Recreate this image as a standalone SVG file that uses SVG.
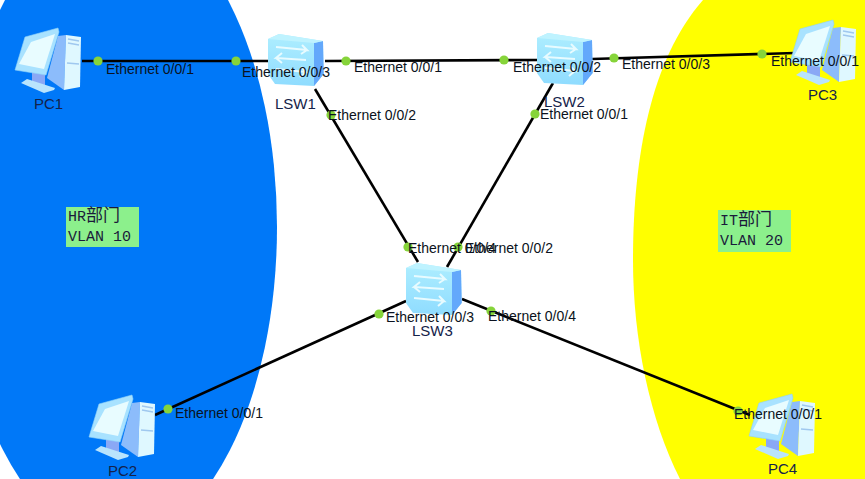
<svg xmlns="http://www.w3.org/2000/svg" width="865" height="479" viewBox="0 0 865 479">
<style>
text{font-family:"Liberation Sans",Arial,sans-serif;font-size:14px;fill:#0b1220}
.n{font-size:15px;fill:#14224a}
.m{font-family:"Liberation Mono","Noto Sans CJK SC",monospace;font-size:15px;fill:#1a1a3a}
.c{font-size:17px}
.l{stroke:#000;stroke-width:2.6;fill:none}
.d{fill:#86d43a}
.t{fill:#8cf08c}
</style>
<defs>
<linearGradient id="sf" x1="0" y1="0" x2="0" y2="1"><stop offset="0" stop-color="#aeeeff"/><stop offset="1" stop-color="#8fdcff"/></linearGradient>
<g id="sw">
<path d="M0 5 L11 0 L55 7 L55.7 40 L46 52 L7 50 L0 40Z" fill="url(#sf)"/>
<path d="M46 9 L55 7 L55.7 40 L46 52Z" fill="#63a8fb"/>
<path d="M0 5 L11 0 L55 7 L46 9Z" fill="#bff3ff"/>
<path d="M8 13 L39 16 L34 11 M39 16 L33 20 M38 26 L8 24 L14 19 M8 24 L14 29 M8 35 L38 38 L33 33 M38 38 L32 43" stroke="#e8fbff" stroke-width="2" fill="none"/>
</g>
<g id="pc">
<path d="M44 8 L52 7 L50 62 L33 50Z" fill="#8cbcfb"/>
<path d="M52 7 L67 9 L66 59 L50 62Z" fill="#dff8ff"/>
<path d="M54 11 L65 13 M54 15 L65 17 M53 35 L65 36" stroke="#9fc8ef" stroke-width="1.5"/>
<path d="M18 42 L31 44 L31 58 L18 54Z" fill="#8aa8f5"/>
<path d="M7 55 L13 51 L41 60 L40 62 L30 65Z" fill="#b9e4fd"/>
<path d="M11 9 L44 0 L45 4 L32 47 L1 42Z" fill="#a8e2ff" stroke="#8fd2f8" stroke-width=".6"/>
<path d="M17 14 L41 6 L30 41 L5 36Z" fill="#e8fcff"/>
</g>
</defs>
<rect width="865" height="479" fill="#fff"/>
<ellipse id="hr-zone" cx="116.5" cy="227" rx="160.5" ry="315.5" fill="#0078f8"/>
<path id="it-zone" d="M703 0 C650 60 633 160 633 260 C633 340 650 420 680 479 L865 479 L865 0Z" fill="#ffff00"/>
<g id="connectors">
<path class="l" d="M82 61 L270 61"/>
<path class="l" d="M325 61 L538 60"/>
<path class="l" d="M592 59 L795 53"/>
<path class="l" d="M315 89 L418 262"/>
<path class="l" d="M553 83 L447 267"/>
<path class="l" d="M406 301 L155 415"/>
<path class="l" d="M462 299 L750 415"/>
<g>
<circle class="d" cx="98" cy="61" r="4.6"/><circle class="d" cx="236" cy="61" r="4.6"/>
<circle class="d" cx="346" cy="61" r="4.6"/><circle class="d" cx="504" cy="60" r="4.6"/>
<circle class="d" cx="614" cy="58" r="4.6"/><circle class="d" cx="762" cy="54" r="4.6"/>
<circle class="d" cx="331" cy="115" r="4.6"/><circle class="d" cx="535" cy="114" r="4.6"/>
<circle class="d" cx="408" cy="247" r="4.6"/><circle class="d" cx="458" cy="247" r="4.6"/>
<circle class="d" cx="379" cy="314" r="4.6"/><circle class="d" cx="491" cy="311" r="4.6"/>
<circle class="d" cx="168" cy="409" r="4.6"/><circle class="d" cx="738" cy="411" r="4.6"/>
</g>
</g>
<g id="PC1"><use href="#pc" x="14" y="28"/><text class="n" x="34" y="109">PC1</text></g>
<g id="PC2"><use href="#pc" x="88" y="395"/><text class="n" x="108" y="476">PC2</text></g>
<g id="PC3"><use href="#pc" x="789" y="20"/><text class="n" x="808" y="100">PC3</text></g>
<g id="PC4"><use href="#pc" x="748" y="394"/><text class="n" x="768" y="474">PC4</text></g>
<g id="LSW1"><use href="#sw" x="268" y="34"/><text class="n" x="275" y="109">LSW1</text></g>
<g id="LSW2"><use href="#sw" x="537" y="33"/><text class="n" x="544" y="107">LSW2</text></g>
<g id="LSW3"><use href="#sw" x="406" y="263"/><text class="n" x="412" y="336">LSW3</text></g>
<g id="labels">
<text x="106" y="74">Ethernet 0/0/1</text>
<text x="242" y="77">Ethernet 0/0/3</text>
<text x="354" y="72">Ethernet 0/0/1</text>
<text x="513" y="72">Ethernet 0/0/2</text>
<text x="622" y="69">Ethernet 0/0/3</text>
<text x="771" y="66">Ethernet 0/0/1</text>
<text x="328" y="120">Ethernet 0/0/2</text>
<text x="540" y="119">Ethernet 0/0/1</text>
<text x="408" y="253">Ethernet 0/0/4</text>
<text x="465" y="253">Ethernet 0/0/2</text>
<text x="386" y="322">Ethernet 0/0/3</text>
<text x="488" y="321">Ethernet 0/0/4</text>
<text x="175" y="418">Ethernet 0/0/1</text>
<text x="734" y="419">Ethernet 0/0/1</text>
</g>
<g id="HR-note"><rect class="t" x="66" y="207" width="73" height="40"/><text class="m" x="68" y="221">HR<tspan class="c">部门</tspan></text><text class="m" x="68" y="241">VLAN 10</text></g>
<g id="IT-note"><rect class="t" x="718" y="210" width="73" height="42"/><text class="m" x="720" y="225">IT<tspan class="c">部门</tspan></text><text class="m" x="720" y="245">VLAN 20</text></g>
</svg>
